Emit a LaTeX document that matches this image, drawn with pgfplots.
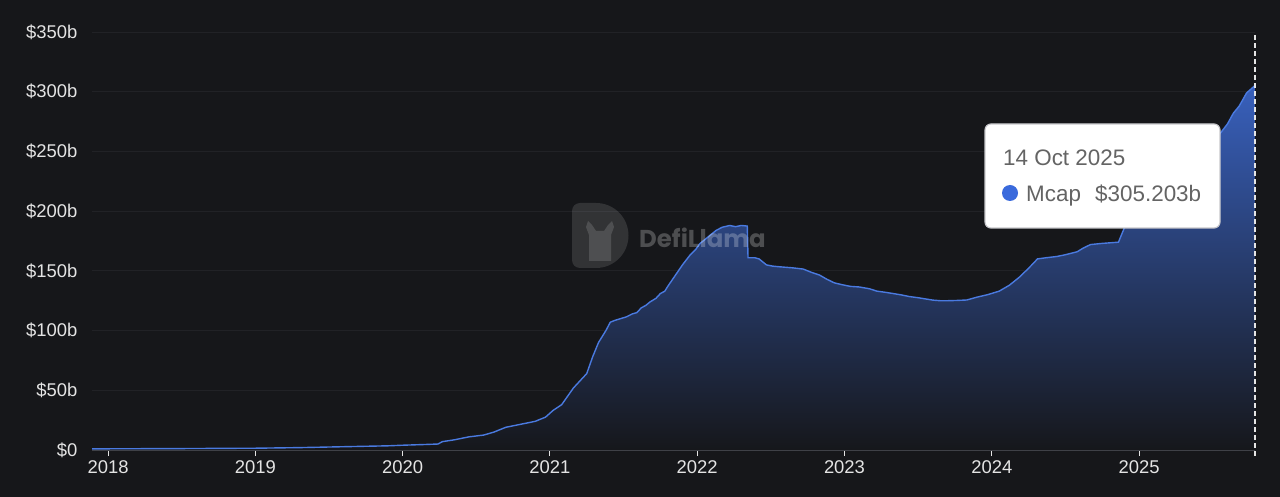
\documentclass[border=0pt]{standalone}
\usepackage{pgfplots}
\pgfplotsset{compat=1.18}
\usepackage{pgfplotstable}
\usepackage{fontspec}
\setmainfont{Liberation Sans}
\newfontfamily\logofont{Poppins}
\definecolor{bg}{RGB}{22,23,26}
\definecolor{gridc}{RGB}{33,34,38}
\definecolor{linec}{RGB}{74,122,224}
\definecolor{ticktxt}{RGB}{228,228,228}
\definecolor{filltop}{RGB}{56,96,188}
\definecolor{fillmid}{RGB}{27,37,68}
\definecolor{fillbot}{RGB}{22,23,27}
\definecolor{tiptxt}{RGB}{100,100,100}
\definecolor{dotc}{RGB}{58,106,220}

\pgfplotstableread{
x y
2017.891 1.0
2018.0 1.0
2018.5 1.2
2019.0 1.5
2019.3 2.0
2019.5 2.5
2019.7 3.0
2019.9 3.5
2020.0 4.0
2020.15 4.6
2020.24 5.0
2020.27 7.0
2020.35 8.5
2020.45 11.0
2020.55 12.5
2020.62 15.0
2020.70 19.0
2020.80 21.5
2020.90 24.0
2020.97 27.5
2021.02 33.0
2021.08 38.0
2021.12 45.0
2021.16 52.0
2021.22 60.0
2021.25 64.0
2021.29 78.0
2021.33 90.0
2021.38 100.0
2021.41 107.0
2021.44 108.5
2021.48 110.0
2021.52 111.5
2021.56 114.0
2021.59 115.0
2021.62 119.0
2021.65 121.0
2021.68 124.0
2021.72 127.0
2021.75 131.0
2021.78 133.0
2021.80 137.0
2021.85 146.0
2021.90 155.0
2021.95 163.0
2021.99 168.0
2022.02 173.0
2022.05 176.0
2022.08 179.0
2022.13 184.0
2022.17 186.5
2022.22 188.0
2022.26 187.0
2022.30 188.0
2022.34 187.5
2022.345 161.0
2022.39 161.0
2022.42 160.0
2022.47 155.0
2022.51 154.0
2022.55 153.5
2022.65 152.5
2022.72 151.5
2022.77 149.0
2022.83 146.5
2022.88 143.0
2022.93 140.0
2022.98 138.5
2023.04 137.0
2023.10 136.5
2023.17 135.0
2023.22 133.0
2023.28 132.0
2023.33 131.0
2023.38 130.0
2023.44 128.5
2023.50 127.5
2023.55 126.5
2023.60 125.5
2023.65 125.0
2023.70 125.0
2023.76 125.2
2023.83 125.6
2023.90 128.0
2023.97 130.0
2024.05 133.0
2024.12 138.0
2024.19 145.0
2024.24 151.0
2024.28 156.0
2024.31 160.0
2024.37 161.0
2024.44 162.0
2024.50 163.5
2024.58 166.0
2024.62 169.0
2024.67 172.0
2024.75 173.0
2024.86 174.0
2024.90 186.0
2024.95 198.0
2025.00 205.0
2025.10 214.0
2025.20 224.0
2025.30 235.0
2025.40 244.0
2025.50 257.0
2025.55 265.0
2025.60 273.0
2025.64 282.0
2025.68 288.0
2025.73 299.0
2025.787 305.2
}\mcap

\begin{document}
\begin{tikzpicture}
\fill[bg] (0bp,0bp) rectangle (1280bp,497bp);
\begin{axis}[
  at={(92bp,47bp)}, anchor=south west,
  scale only axis, width=1163bp, height=418bp,
  xmin=2017.891, xmax=2025.787, ymin=0, ymax=350,
  axis lines*=left,
  y axis line style={draw=none},
  x axis line style={draw={rgb,255:red,70;green,72;blue,78}, line width=0.8bp},
  ytick={0,50,...,350},
  yticklabels={\$0,\$50b,\$100b,\$150b,\$200b,\$250b,\$300b,\$350b},
  xtick={2018,2019,2020,2021,2022,2023,2024,2025},
  xticklabels={2018,2019,2020,2021,2022,2023,2024,2025},
  ymajorgrids, grid style={gridc, line width=0.8bp},
  ytick style={draw=none},
  xtick style={draw=ticktxt, line width=1bp},
  tick align=outside, major tick length=6bp,
  tick label style={text=ticktxt, font=\fontsize{18.5}{21}\selectfont},
  yticklabel style={xshift=-5bp},
  xticklabel style={yshift=-1bp},
  clip=false,
]
\addplot[draw=none, top color=filltop, middle color=fillmid, bottom color=fillbot] table[x=x,y=y]{\mcap} \closedcycle;
\addplot[linec, line width=1.4bp] table[x=x,y=y]{\mcap};
\draw[white!90!black, dash pattern=on 5bp off 3bp, line width=1.2bp] (axis cs:2025.787,-5) -- (axis cs:2025.787,350);
\end{axis}
% watermark (over the plot, translucent)
\fill[white, opacity=0.12] (596bp,294bp) -- (580bp,294bp) to[out=180,in=90] (572bp,286bp) -- (572bp,237bp) to[out=-90,in=180] (580bp,229bp) -- (596bp,229bp) arc[start angle=-90,end angle=90,radius=32.5bp] -- cycle;
\fill[white, opacity=0.14] (589bp,236bp) -- (589bp,262bp) -- (586bp,270bp) -- (588bp,276bp) -- (592bp,272bp) -- (596bp,266bp) -- (604bp,266bp) -- (608bp,272bp) -- (612bp,276bp) -- (614bp,270bp) -- (611bp,262bp) -- (611bp,236bp) -- cycle;
\node[anchor=west, text=white, text opacity=0.24, font=\logofont\bfseries\fontsize{24.5}{27}\selectfont, inner sep=0pt] at (639bp,259bp) {DefiLlama};
% tooltip
\filldraw[fill=white, draw={rgb,255:red,200;green,200;blue,204}, line width=1.2bp, rounded corners=6bp] (985bp,269bp) rectangle (1220bp,373bp);
\node[anchor=base west, text=tiptxt, font=\fontsize{22.5}{26}\selectfont, inner sep=0pt] at (1003bp,331bp) {14 Oct 2025};
\fill[dotc] (1010bp,304bp) circle[radius=8bp];
\node[anchor=base west, text=tiptxt, font=\fontsize{22.5}{26}\selectfont, inner sep=0pt] at (1026bp,295bp) {Mcap};
\node[anchor=base west, text=tiptxt, font=\fontsize{22.5}{26}\selectfont, inner sep=0pt] at (1095bp,295bp) {\$305.203b};
\end{tikzpicture}
\end{document}
